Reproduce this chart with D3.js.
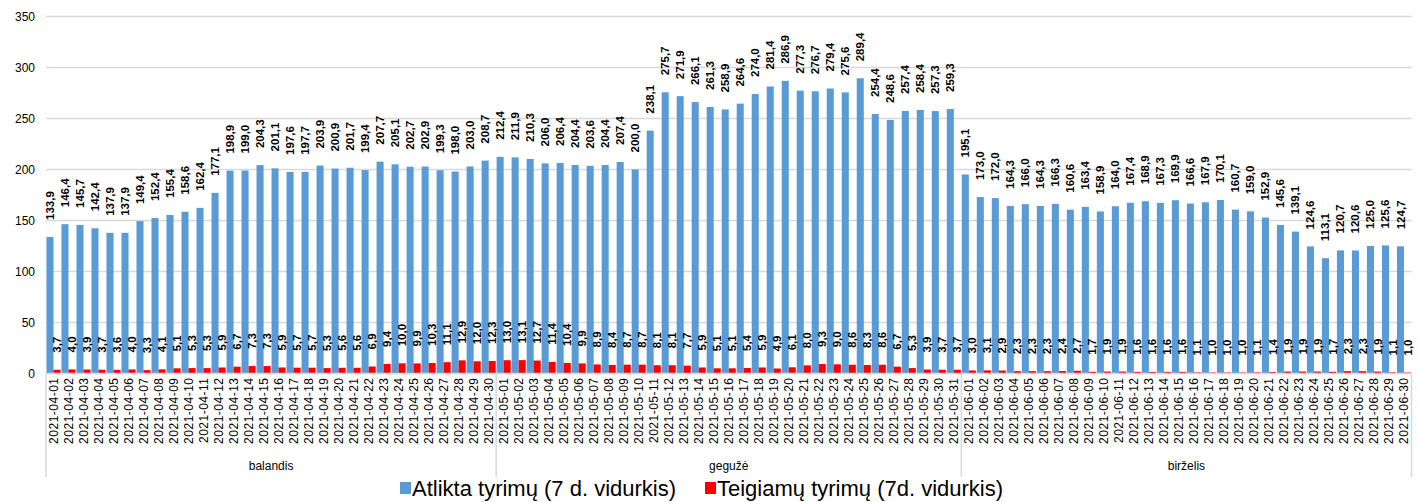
<!DOCTYPE html>
<html>
<head>
<meta charset="utf-8">
<script src="https://cdn.jsdelivr.net/npm/d3@7"></script>
<style>
  body { margin: 0; background: #fff; }
  svg { display: block; font-family: "Liberation Sans", Arial, sans-serif; }
</style>
</head>
<body>
<div id="chart"></div>
<script>
// daily values, 2021-04-01 .. 2021-06-30
let months = ["balandis", "gegužė", "birželis"];
let month_days = [30, 31, 30];

let tests = [
    133.9, 146.4, 145.7, 142.4, 137.9, 137.9, 149.4, 152.4, 155.4, 158.6,
    162.4, 177.1, 198.9, 199.0, 204.3, 201.1, 197.6, 197.7, 203.9, 200.9,
    201.7, 199.4, 207.7, 205.1, 202.7, 202.9, 199.3, 198.0, 203.0, 208.7,
    212.4, 211.9, 210.3, 206.0, 206.4, 204.4, 203.6, 204.4, 207.4, 200.0,
    238.1, 275.7, 271.9, 266.1, 261.3, 258.9, 264.6, 274.0, 281.4, 286.9,
    277.3, 276.7, 279.4, 275.6, 289.4, 254.4, 248.6, 257.4, 258.4, 257.3, 259.3,
    195.1, 173.0, 172.0, 164.3, 166.0, 164.3, 166.3, 160.6, 163.4, 158.9,
    164.0, 167.4, 168.9, 167.3, 169.9, 166.6, 167.9, 170.1, 160.7, 159.0,
    152.9, 145.6, 139.1, 124.6, 113.1, 120.7, 120.6, 125.0, 125.6, 124.7
];

let positive = [
    3.7, 4.0, 3.9, 3.7, 3.6, 4.0, 3.3, 4.1, 5.1, 5.3,
    5.3, 5.9, 6.7, 7.3, 7.3, 5.9, 5.7, 5.7, 5.3, 5.6,
    5.6, 6.9, 9.4, 10.0, 9.9, 10.3, 11.1, 12.9, 12.0, 12.3,
    13.0, 13.1, 12.7, 11.4, 10.4, 9.9, 8.9, 8.4, 8.7, 8.7,
    8.1, 8.1, 7.7, 5.9, 5.1, 5.1, 5.4, 5.9, 4.9, 6.1,
    8.0, 9.3, 9.0, 8.6, 8.3, 8.6, 6.7, 5.3, 3.9, 3.7, 3.7,
    3.0, 3.1, 2.9, 2.3, 2.3, 2.3, 2.4, 2.7, 1.7, 1.9,
    1.9, 1.6, 1.6, 1.6, 1.6, 1.1, 1.0, 1.0, 1.0, 1.1,
    1.4, 1.9, 1.9, 1.9, 1.7, 2.3, 2.3, 1.9, 1.1, 1.0
];

let series_names = ["Atlikta tyrimų (7 d. vidurkis)", "Teigiamų tyrimų (7d. vidurkis)"];
let y_ticks = [0, 50, 100, 150, 200, 250, 300, 350];

let colors = ["#5b9bd5", "#ff0000"];

// build date strings
let dates = [];
for (let m = 0; m < months.length; m++) {
    for (let d = 1; d <= month_days[m]; d++) {
        dates.push("2021-0" + (m + 4) + "-" + (d < 10 ? "0" + d : d));
    }
}

let width = 1419, height = 502;
let left = 46, right = 1411.5, top_y = 16.5, bottom_y = 373.5;

let svg = d3.select("#chart").append("svg")
    .attr("width", width)
    .attr("height", height);

let x = d3.scaleBand()
    .domain(dates)
    .range([left, right])
    .paddingInner(0.06)
    .paddingOuter(0.03);

let x1 = d3.scaleBand()
    .domain([0, 1])
    .range([0, x.bandwidth()]);

let y = d3.scaleLinear()
    .domain([0, 350])
    .range([bottom_y, top_y]);

let fmt = function (v) { return d3.format(".1f")(v).replace(".", ","); };

// gridlines
svg.append("g")
    .selectAll("line")
    .data(y_ticks)
    .enter().append("line")
    .attr("x1", left)
    .attr("x2", right)
    .attr("y1", function (d) { return y(d); })
    .attr("y2", function (d) { return y(d); })
    .style("stroke", "#d9d9d9")
    .style("stroke-width", 1.5);

// y axis labels
let yAxis = svg.append("g")
    .attr("transform", "translate(" + (left - 4) + ",0)")
    .call(d3.axisLeft(y).tickValues(y_ticks).tickSize(0).tickPadding(7));
yAxis.select(".domain").remove();
yAxis.selectAll("text")
    .style("font-size", "12px")
    .style("fill", "#000");

let all_series = [tests, positive];

for (let s = 0; s < 2; s++) {
    let vals = all_series[s];
    svg.append("g")
        .selectAll("rect")
        .data(vals)
        .enter().append("rect")
        .attr("x", function (d, i) { return x(dates[i]) + x1(s); })
        .attr("y", function (d) { return y(d); })
        .attr("width", x1.bandwidth())
        .attr("height", function (d) { return bottom_y - y(d); })
        .style("fill", colors[s]);
}

// bottom axis line
svg.append("line")
    .attr("x1", left).attr("x2", right)
    .attr("y1", bottom_y).attr("y2", bottom_y)
    .style("stroke", "#d9d9d9")
    .style("stroke-width", 1.5);

// value labels
let gap = 17;
for (let s = 0; s < 2; s++) {
    let vals = all_series[s];
    svg.append("g")
        .selectAll("text")
        .data(vals)
        .enter().append("text")
        .attr("transform", function (d, i) {
            let cx = x(dates[i]) + x1(s) + x1.bandwidth() / 2;
            return "translate(" + cx + "," + (y(d) - gap) + ") rotate(-90)";
        })
        .attr("dy", "0.35em")
        .style("font-size", "11.5px")
        .style("font-weight", "bold")
        .style("fill", "#000")
        .text(fmt);
}

// date labels
svg.append("g")
    .selectAll("text")
    .data(dates)
    .enter().append("text")
    .attr("transform", function (d) {
        return "translate(" + (x(d) + x.bandwidth() / 2) + "," + (bottom_y + 4) + ") rotate(-90)";
    })
    .attr("dy", "0.35em")
    .attr("text-anchor", "end")
    .style("font-size", "12px")
    .style("letter-spacing", "0.5px")
    .style("fill", "#000")
    .text(function (d) { return d; });

// month groups
let edges = [0];
for (let m = 0; m < month_days.length; m++) edges.push(edges[m] + month_days[m]);
let edge_x = function (k) {
    if (k == 0) return left;
    if (k == dates.length) return right;
    return (x(dates[k - 1]) + x.bandwidth() + x(dates[k])) / 2;
};

svg.append("g")
    .selectAll("line")
    .data(edges)
    .enter().append("line")
    .attr("x1", function (d) { return edge_x(d); })
    .attr("x2", function (d) { return edge_x(d); })
    .attr("y1", bottom_y)
    .attr("y2", 477)
    .style("stroke", "#d9d9d9")
    .style("stroke-width", 1.5);

svg.append("g")
    .selectAll("text")
    .data(months)
    .enter().append("text")
    .attr("x", function (d, i) { return (edge_x(edges[i]) + edge_x(edges[i + 1])) / 2; })
    .attr("y", 470)
    .attr("text-anchor", "middle")
    .style("font-size", "12px")
    .style("fill", "#000")
    .text(function (d) { return d; });

// legend
let legend_x = [400, 705];
let legend = svg.append("g");
for (let s = 0; s < 2; s++) {
    legend.append("rect")
        .attr("x", legend_x[s])
        .attr("y", 482)
        .attr("width", 11)
        .attr("height", 12)
        .style("fill", colors[s]);
    legend.append("text")
        .attr("x", legend_x[s] + 12)
        .attr("y", 496)
        .style("font-size", "22px")
        .style("fill", "#000")
        .text(series_names[s]);
}
</script>
</body>
</html>
